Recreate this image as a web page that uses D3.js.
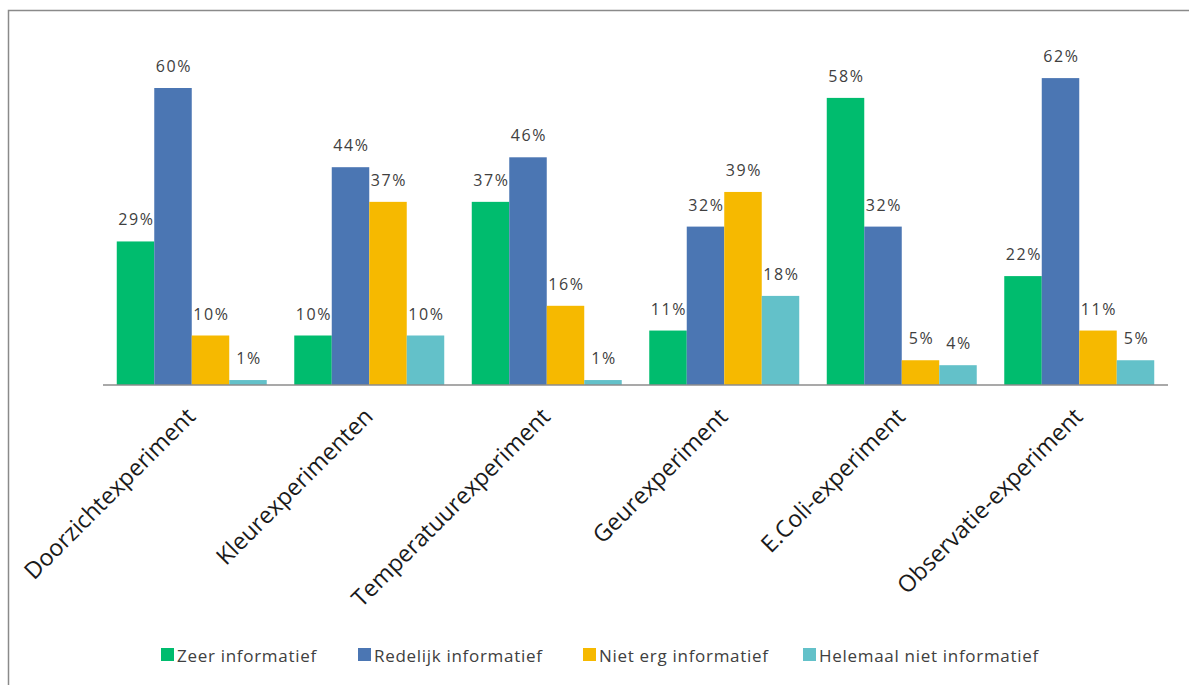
<!DOCTYPE html>
<html>
<head>
<meta charset="utf-8">
<script src="https://cdn.jsdelivr.net/npm/d3@7"></script>
<style>
  html, body { margin: 0; padding: 0; background: #fff; }
  svg { display: block; font-family: "Open Sans", Lato, sans-serif; }
</style>
</head>
<body>
<svg id="chart" width="1189" height="685"></svg>
<script>
// Experiments rated by how informative they were (percent of respondents)
const categories = ["Doorzichtexperiment", "Kleurexperimenten", "Temperatuurexperiment",
                    "Geurexperiment", "E.Coli-experiment", "Observatie-experiment"];
const seriesNames = ["Zeer informatief", "Redelijk informatief", "Niet erg informatief", "Helemaal niet informatief"];
const seriesColors = ["#00BC6E", "#4B76B3", "#F6B900", "#63C1C9"];
const zeer       = [29, 10, 37, 11, 58, 22];
const redelijk   = [60, 44, 46, 32, 32, 62];
const nietErg    = [10, 37, 16, 39, 5, 11];
const helemaal   = [1, 10, 1, 18, 4, 5];
const seriesValues = [zeer, redelijk, nietErg, helemaal];

const svg = d3.select("#chart");
const W = 1189, H = 685;

// outer frame (only top and left edges fall within the view)
svg.append("rect")
  .attr("x", 8.5).attr("y", 10.5)
  .attr("width", W + 20).attr("height", H + 20)
  .attr("fill", "#fff").attr("stroke", "#8a8a8a").attr("stroke-width", 1.5);

const plot = { left: 103, right: 1168, top: 38.5, bottom: 385 };

const x0 = d3.scaleBand()
  .domain(categories)
  .range([plot.left, plot.right])
  .paddingInner(0.155)
  .paddingOuter(0.0775);

const x1 = d3.scaleBand()
  .domain(d3.range(seriesNames.length))
  .range([0, x0.bandwidth()]);

const y = d3.scaleLinear()
  .domain([0, 70])
  .range([plot.bottom, plot.top]);

const rows = categories.map((c, i) => ({
  cat: c,
  vals: seriesValues.map((s, k) => ({ k, v: s[i] }))
}));

const groups = svg.append("g").selectAll("g")
  .data(rows).join("g")
  .attr("transform", d => `translate(${x0(d.cat)},0)`);

groups.selectAll("rect")
  .data(d => d.vals).join("rect")
  .attr("x", d => x1(d.k))
  .attr("width", x1.bandwidth())
  .attr("y", d => y(d.v))
  .attr("height", d => y(0) - y(d.v))
  .attr("fill", d => seriesColors[d.k]);

groups.selectAll("text")
  .data(d => d.vals).join("text")
  .attr("x", d => x1(d.k) + x1.bandwidth() / 2 + 1)
  .attr("y", d => y(d.v) - 16)
  .attr("text-anchor", "middle")
  .attr("font-size", 16)
  .attr("letter-spacing", 1.6)
  .attr("fill", "#404040")
  .text(d => d.v + "%");

// category axis
const xAxis = svg.append("g")
  .attr("transform", `translate(0,${plot.bottom})`)
  .call(d3.axisBottom(x0).tickSize(0).tickPadding(0));
xAxis.select(".domain").attr("stroke", "#8c8c8c").attr("stroke-width", 1.5)
  .attr("d", `M${plot.left},0H${plot.right}`);
xAxis.selectAll(".tick text")
  .attr("font-family", "'Open Sans', Lato, sans-serif")
  .attr("font-size", 23.3)
  .attr("fill", "#1a1a1a")
  .attr("text-anchor", "end")
  .attr("dy", null)
  .attr("transform", "translate(5,33) rotate(-45)");

// legend
const legendX = [161, 358, 583, 803];
const legend = svg.append("g").selectAll("g")
  .data(seriesNames).join("g")
  .attr("transform", (d, i) => `translate(${legendX[i]},648)`);
legend.append("rect")
  .attr("width", 13).attr("height", 13)
  .attr("fill", (d, i) => seriesColors[i]);
legend.append("text")
  .attr("x", 16).attr("y", 13.5)
  .attr("font-size", 17)
  .attr("letter-spacing", 0.7)
  .attr("fill", "#404040")
  .text(d => d);
</script>
</body>
</html>
